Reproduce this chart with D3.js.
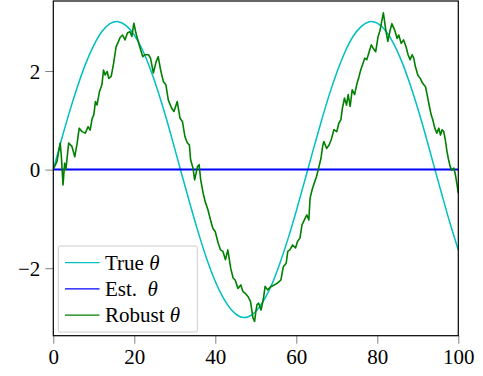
<!DOCTYPE html>
<html>
<head>
<meta charset="utf-8">
<script src="https://cdn.jsdelivr.net/npm/d3@7"></script>
<style>
  body { margin: 0; background: #fff; }
  svg text { font-family: "Liberation Serif", "DejaVu Serif", serif; }
</style>
</head>
<body>
<svg id="viz"></svg>
<script>
var width = 483;
var height = 376;

// true theta, sampled every 2 time steps
var trueTheta = [0, 0.60, 1.17, 1.69, 2.15, 2.52, 2.80, 2.96, 3.00, 2.92, 2.73, 2.43, 2.03, 1.55, 1.01,
  0.42, -0.18, -0.77, -1.33, -1.84, -2.27, -2.61, -2.85, -2.98, -2.99, -2.88, -2.65, -2.32, -1.89,
  -1.39, -0.84, -0.25, 0.35, 0.93, 1.48, 1.97, 2.38, 2.70, 2.90, 3.00, 2.97, 2.82, 2.56, 2.20, 1.75,
  1.24, 0.67, 0.07, -0.52, -1.10, -1.63];
var trueT = d3.range(0, 101, 2);

// estimated theta stays flat
var estT = [0, 100];
var estTheta = [0, 0];

// robust estimate
var robust = [
  [0.1, 0.03], [0.9, 0.16], [1.7, 0.54], [2.0, 0.26], [2.4, -0.31], [2.8, 0.13], [3.1, 0.0], [3.8, 0.54],
  [4.6, 0.47], [5.3, 0.26], [5.9, 0.54], [6.4, 0.84], [7.1, 0.77], [7.9, 0.74], [8.6, 0.87], [9.1, 0.80],
  [9.6, 1.04], [10.0, 1.11], [10.4, 1.38], [10.8, 1.31], [11.4, 1.58], [12.0, 1.72], [12.4, 2.02],
  [12.8, 1.92], [13.3, 1.99], [13.7, 1.85], [14.3, 1.89], [14.9, 2.16], [15.5, 2.49], [16.1, 2.60],
  [16.5, 2.68], [17.1, 2.73], [17.7, 2.63], [18.3, 2.77], [18.9, 2.80], [19.4, 2.70], [19.9, 2.97],
  [20.4, 2.77], [21.2, 2.53], [22.1, 2.29], [22.6, 2.33], [23.5, 2.33], [24.0, 2.26], [24.7, 1.96],
  [25.4, 2.19], [25.9, 2.29], [26.5, 2.02], [27.2, 1.78], [27.8, 1.72], [28.4, 1.41], [29.2, 1.25],
  [29.8, 1.18], [30.6, 1.38], [31.3, 1.04], [31.9, 0.97], [32.5, 0.67], [33.1, 0.54], [33.6, 0.50],
  [33.9, 0.20], [34.5, 0.03], [34.9, -0.21], [35.6, 0.06], [36.0, 0.10], [36.4, -0.21], [37.0, -0.48],
  [37.5, -0.65], [38.2, -0.82], [38.9, -1.05], [39.4, -1.19], [40.0, -1.26], [40.7, -1.49], [41.3, -1.63],
  [41.9, -1.66], [42.5, -1.83], [43.1, -1.63], [43.8, -2.00], [44.4, -2.20], [44.9, -2.24], [45.6, -2.41],
  [46.3, -2.34], [46.8, -2.47], [47.4, -2.51], [48.1, -2.58], [48.7, -2.68], [49.3, -3.01], [49.7, -3.08],
  [50.0, -2.88], [50.3, -2.74], [50.7, -2.71], [51.3, -2.85], [51.9, -2.61], [52.3, -2.37], [52.9, -2.44],
  [53.8, -2.37], [54.6, -2.34], [55.4, -2.30], [56.2, -2.24], [56.8, -1.97], [57.5, -1.90], [57.9, -1.66],
  [58.4, -1.63], [59.1, -1.53], [59.8, -1.59], [60.3, -1.46], [60.9, -1.39], [61.4, -1.12], [62.0, -1.02],
  [62.6, -0.92], [63.1, -1.02], [63.4, -0.58], [63.9, -0.41], [64.4, -0.28], [65.0, -0.14], [65.5, 0.03],
  [66.1, 0.23], [66.5, 0.47], [66.8, 0.57], [67.5, 0.43], [68.1, 0.50], [68.6, 0.60], [69.3, 0.81],
  [70.0, 0.77], [70.5, 0.94], [71.0, 1.01], [71.4, 1.25], [71.9, 1.45], [72.4, 1.31], [72.8, 1.52],
  [73.3, 1.28], [73.8, 1.62], [74.4, 1.52], [74.9, 1.72], [75.5, 1.89], [75.9, 2.02], [76.5, 2.16],
  [76.9, 2.26], [77.4, 2.23], [78.0, 2.39], [78.5, 2.53], [79.0, 2.46], [79.6, 2.39], [80.2, 2.70],
  [80.7, 2.83], [81.0, 2.97], [81.5, 3.18], [82.1, 2.83], [82.6, 2.60], [83.1, 2.80], [83.6, 2.96],
  [84.3, 2.83], [84.9, 2.66], [85.3, 2.73], [85.9, 2.56], [86.5, 2.63], [87.1, 2.49], [87.6, 2.33],
  [88.1, 2.23], [88.6, 2.33], [89.0, 2.26], [89.4, 2.09], [90.0, 1.92], [90.6, 1.85], [91.2, 1.75],
  [91.9, 1.68], [92.3, 1.52], [92.8, 1.31], [93.3, 1.11], [93.7, 1.01], [94.2, 0.84], [94.7, 0.74],
  [95.2, 0.84], [95.6, 0.70], [96.0, 0.81], [96.4, 0.77], [96.8, 0.60], [97.2, 0.37], [97.6, 0.20],
  [98.0, 0.06], [98.4, -0.01], [98.9, 0.03], [99.3, -0.11], [99.7, -0.31], [100, -0.48]
];

var xTicks = [0, 20, 40, 60, 80, 100];
var yTicks = [-2, 0, 2];
var legendLabels = ["True ", "Est.  ", "Robust "];
var colors = ["#00bfbf", "#0000ff", "#008000"];

var margin = {top: 1, right: 24.7, bottom: 40.3, left: 53.3};

var svg = d3.select("#viz")
  .attr("width", width)
  .attr("height", height);

var x = d3.scaleLinear().domain([0, 100]).range([margin.left, width - margin.right]);
var y = d3.scaleLinear().domain([-3.37, 3.42]).range([height - margin.bottom, margin.top]);

var plot = svg.append("g");

// true theta
plot.append("path")
  .datum(trueT.map((t, i) => [t, trueTheta[i]]))
  .attr("fill", "none")
  .attr("stroke", colors[0])
  .attr("stroke-width", 1.5)
  .attr("d", d3.line().x(d => x(d[0])).y(d => y(d[1])).curve(d3.curveNatural));

// estimated theta
plot.append("path")
  .datum(estT.map((t, i) => [t, estTheta[i]]))
  .attr("fill", "none")
  .attr("stroke", colors[1])
  .attr("stroke-width", 2)
  .attr("d", d3.line().x(d => x(d[0])).y(d => y(d[1])));

// robust theta
plot.append("path")
  .datum(robust)
  .attr("fill", "none")
  .attr("stroke", colors[2])
  .attr("stroke-width", 1.6)
  .attr("stroke-linejoin", "round")
  .attr("d", d3.line().x(d => x(d[0])).y(d => y(d[1])));

// axes
var xAxis = svg.append("g")
  .attr("transform", `translate(0,${height - margin.bottom})`)
  .call(d3.axisBottom(x).tickValues(xTicks).tickSize(8).tickPadding(5).tickFormat(d3.format("d")));
var yAxis = svg.append("g")
  .attr("transform", `translate(${margin.left},0)`)
  .call(d3.axisLeft(y).tickValues(yTicks).tickSize(8).tickPadding(5)
    .tickFormat(d => d < 0 ? "\u2212" + Math.abs(d) : d));

[xAxis, yAxis].forEach(a => {
  a.select(".domain").remove();
  a.selectAll(".tick line").attr("stroke", "#808080");
  a.selectAll(".tick text")
    .attr("fill", "#000")
    .style("font-family", "'Liberation Serif', serif")
    .style("font-size", "21px");
});
yAxis.selectAll(".tick text").attr("dy", "0.34em");

// frame
svg.append("rect")
  .attr("x", margin.left)
  .attr("y", margin.top)
  .attr("width", width - margin.left - margin.right)
  .attr("height", height - margin.top - margin.bottom)
  .attr("fill", "none")
  .attr("stroke", "#000")
  .attr("stroke-width", 1.2);

// legend
var legend = svg.append("g");
legend.append("rect")
  .attr("x", 58.3).attr("y", 246)
  .attr("width", 139).attr("height", 86)
  .attr("rx", 1.5)
  .attr("fill", "#fff")
  .attr("stroke", "#cccccc")
  .attr("stroke-width", 1);

var row = legend.selectAll("g.row")
  .data(legendLabels)
  .join("g")
  .attr("class", "row")
  .attr("transform", (d, i) => `translate(0,${262.7 + i * 26.2})`);

row.append("line")
  .attr("x1", 65).attr("x2", 99.5)
  .attr("stroke", (d, i) => colors[i])
  .attr("stroke-width", 1.2);

var txt = row.append("text")
  .attr("x", 105)
  .attr("dy", "0.34em")
  .style("font-size", "21px")
  .style("white-space", "pre")
  .attr("xml:space", "preserve");
txt.append("tspan").text(d => d);
txt.append("tspan").style("font-style", "italic").text("\u03b8");
</script>
</body>
</html>
